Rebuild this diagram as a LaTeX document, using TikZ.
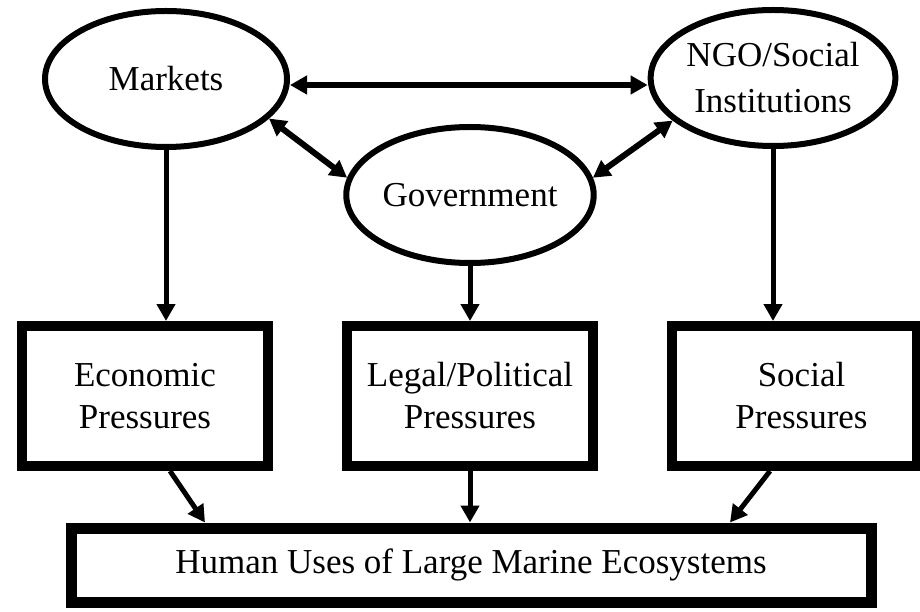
\documentclass[tikz,border=0pt]{standalone}
\usepackage{fontspec}
\newfontfamily\lserif{Liberation Serif}
\usetikzlibrary{arrows.meta,shapes.geometric}
\begin{document}
\begin{tikzpicture}[x=1pt,y=-1pt,
  oval/.style={ellipse, draw, line width=6pt, inner sep=0pt, minimum width=242pt, minimum height=136pt, align=center, font=\lserif\fontsize{35}{46}\selectfont},
  pbox/.style={rectangle, draw, line width=10pt, inner sep=0pt, minimum width=246pt, minimum height=140pt, align=center, font=\lserif\fontsize{35}{42}\selectfont},
  link/.style={line width=5pt, -{Triangle[length=17pt,width=18pt]}},
  blink/.style={line width=6pt, {Triangle[length=17pt,width=18pt]}-{Triangle[length=17pt,width=18pt]}}]
\useasboundingbox (0,0) rectangle (920,612);
\node[oval] (markets) at (166,79) {Markets};
\node[oval] (gov) at (470,195) {Government};
\node[oval] (ngo) at (773,78) {NGO/Social\\Institutions};
\node[pbox] (econ) at (145,396) {Economic\\Pressures};
\node[pbox] (legal) at (470,396) {Legal/Political\\Pressures};
\node[pbox, minimum width=245pt,
  label={[align=center, font=\lserif\fontsize{35}{42}\selectfont, xshift=7pt]center:{Social\\Pressures}}]
  (social) at (794.5,396) {};
\node[pbox, line width=11pt, minimum width=800pt, minimum height=74pt] (human) at (471,565) {Human Uses of Large Marine Ecosystems};
\draw[blink] ([yshift=-6pt]markets.east) -- ([yshift=-7pt]ngo.west);
\draw[blink] (markets.-21) -- (gov.172);
\draw[blink] (ngo.203) -- (gov.8);
\draw[link] (markets.south) -- (markets.south |- econ.north);
\draw[link] (gov.south) -- (gov.south |- legal.north);
\draw[link] (ngo.south) -- (ngo.south |- social.north);
\draw[link] ([xshift=25pt]econ.south) -- ([xshift=-266pt]human.north);
\draw[link] (legal.south) -- (legal.south |- human.north);
\draw[link] ([xshift=-24.5pt]social.south) -- ([xshift=259pt]human.north);
\end{tikzpicture}
\end{document}
